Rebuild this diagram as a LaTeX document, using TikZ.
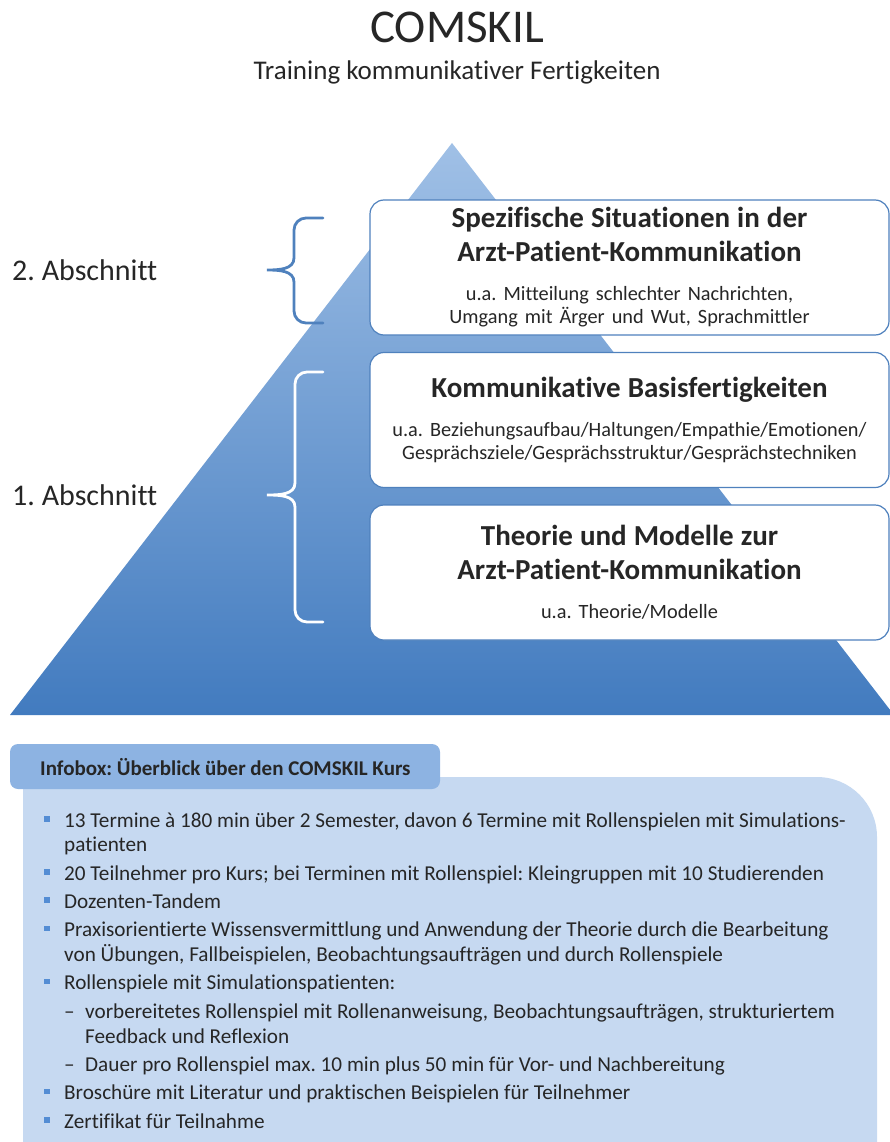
\documentclass[tikz,border=0pt]{standalone}
\usepackage{fontspec}
\setmainfont[Ligatures={NoCommon}]{Carlito}
\frenchspacing

\definecolor{pyrtop}{RGB}{160,192,230}
\definecolor{pyrbot}{RGB}{66,123,191}
\definecolor{boxblue}{RGB}{79,129,189}
\definecolor{tabblue}{RGB}{141,179,226}
\definecolor{infoblue}{RGB}{198,217,241}
\definecolor{bulletblue}{RGB}{84,141,212}
\definecolor{textgray}{RGB}{38,38,38}

\newcommand{\boxhead}{\fontsize{29}{34}\selectfont\bfseries}
\newcommand{\boxsub}{\fontsize{20.3}{23}\selectfont}

\begin{document}
\begin{tikzpicture}[x=1pt, y=-1pt, text=textgray, font=\fontsize{21.2}{25}\selectfont]
  \tikzset{box/.style={draw=boxblue, line width=1.2pt, fill=white, rounded corners=14pt, minimum width=519pt, minimum height=135pt, text width=510pt, align=center, inner sep=0pt},
    bracket/.style={line width=2.8pt, line cap=round},
    section/.style={anchor=west, inner sep=0pt, font=\fontsize{30}{36}\selectfont},
    item/.style={anchor=base west, inner sep=0pt},
    bullet/.style={fill=bulletblue, minimum size=5.5pt, inner sep=0pt}}
  \useasboundingbox (0,0) rectangle (890,1142);

  % heading
  \node[anchor=base, font=\fontsize{47}{56}\selectfont] (title) at (457,43) {COMSKIL};
  \node[anchor=base, font=\fontsize{27}{32}\selectfont] (subtitle) at (457,80) {Training kommunikativer Fertigkeiten};

  % pyramid
  \shade[top color=pyrtop, bottom color=pyrbot] (452,143) -- (10,715) -- (894,715) -- cycle;

  \node[box] (special) at (629.5,267.5) {{\boxhead Spezifische Situationen in der\\Arzt-Patient-Kommunikation\par}\vspace{16pt}{\boxsub u.a. Mitteilung schlechter Nachrichten,\\Umgang mit Ärger und Wut, Sprachmittler\par}};
  \node[box] (basic) at (629.5,420) {{\boxhead Kommunikative Basisfertigkeiten\par}\vspace{16pt}{\boxsub u.a. Beziehungsaufbau/Haltungen/Empathie/Emotionen/\\Gesprächsziele/Gesprächsstruktur/Gesprächstechniken\par}};
  \node[box] (theory) at (629.5,572.5) {{\boxhead Theorie und Modelle zur\\Arzt-Patient-Kommunikation\par}\vspace{16pt}{\boxsub u.a. Theorie/Modelle\par}};

  % sections
  \draw[bracket, draw=boxblue] (323,218) -- (306,218) to[out=180,in=90] (294,230) -- (294,258) to[out=-90,in=0] (267,270) to[out=0,in=90] (294,282) -- (294,311) to[out=-90,in=180] (306,323) -- (323,323);
  \draw[bracket, draw=white] (323,372) -- (307,372) to[out=180,in=90] (295,384) -- (295,483) to[out=-90,in=0] (267,495) to[out=0,in=90] (295,507) -- (295,610) to[out=-90,in=180] (307,622) -- (323,622);
  \node[section] (part2) at (12,270) {2. Abschnitt};
  \node[section] (part1) at (12,495) {1. Abschnitt};

  % infobox
  \fill[infoblue] (23,1150) -- (23,777) [rounded corners=60pt] -- (877,777) [sharp corners] -- (877,1150) -- cycle;
  \fill[tabblue, rounded corners=8pt] (10,744) rectangle (440,789);
  \node[anchor=west, inner sep=0pt, font=\fontsize{21}{25}\selectfont\bfseries] (infohead) at (40,767) {Infobox: Überblick über den COMSKIL Kurs};

  \node[bullet] (dot1) at (47,819) {};
  \node[item] (item1) at (64,827) {13 Termine à 180 min über 2 Semester, davon 6 Termine mit Rollenspielen mit Simulations-};
  \node[item] (item1b) at (64,851.5) {patienten};
  \node[bullet] (dot2) at (47,872) {};
  \node[item] (item2) at (64,880) {20 Teilnehmer pro Kurs; bei Terminen mit Rollenspiel: Kleingruppen mit 10 Studierenden};
  \node[bullet] (dot3) at (47,900) {};
  \node[item] (item3) at (64,908) {Dozenten-Tandem};
  \node[bullet] (dot4) at (47,928.3) {};
  \node[item] (item4) at (64,936.3) {Praxisorientierte Wissensvermittlung und Anwendung der Theorie durch die Bearbeitung};
  \node[item] (item4b) at (64,961) {von Übungen, Fallbeispielen, Beobachtungsaufträgen und durch Rollenspiele};
  \node[bullet] (dot5) at (47,981.7) {};
  \node[item] (item5) at (64,989.7) {Rollenspiele mit Simulationspatienten:};
  \node[item] (sub1) at (64,1018) {\makebox[21pt][l]{–}vorbereitetes Rollenspiel mit Rollenanweisung, Beobachtungsaufträgen, strukturiertem};
  \node[item] (sub1b) at (85,1043) {Feedback und Reflexion};
  \node[item] (sub2) at (64,1071.3) {\makebox[21pt][l]{–}Dauer pro Rollenspiel max. 10 min plus 50 min für Vor- und Nachbereitung};
  \node[bullet] (dot6) at (47,1091.7) {};
  \node[item] (item6) at (64,1099.7) {Broschüre mit Literatur und praktischen Beispielen für Teilnehmer};
  \node[bullet] (dot7) at (47,1120) {};
  \node[item] (item7) at (64,1128) {Zertifikat für Teilnahme};
\end{tikzpicture}
\end{document}
